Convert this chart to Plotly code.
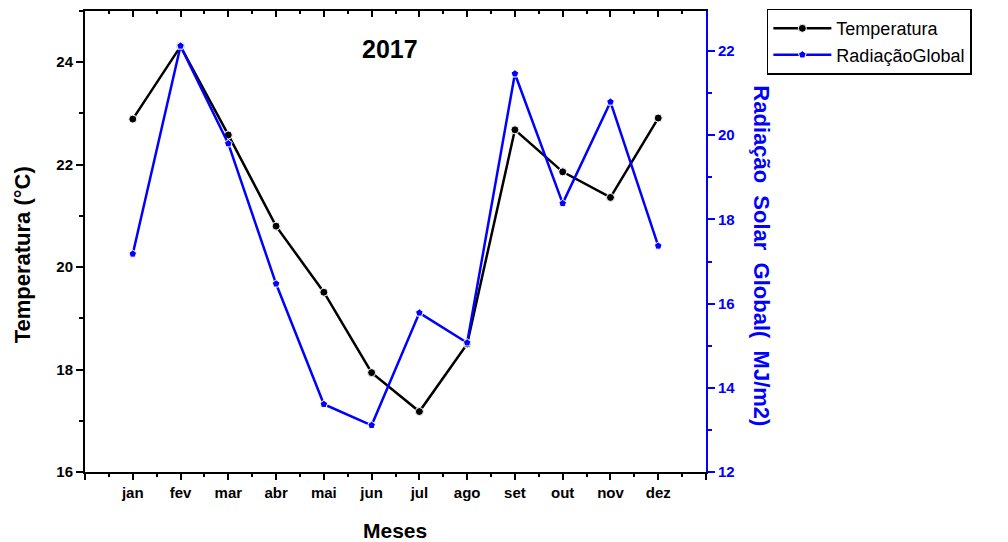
import plotly.graph_objects as go

meses = ["jan", "fev", "mar", "abr", "mai", "jun", "jul", "ago", "set", "out", "nov", "dez"]
temperatura = [22.89, 24.31, 22.58, 20.80, 19.51, 17.94, 17.18, 18.50, 22.68, 21.86, 21.36, 22.91]
radiacao = [17.18, 22.12, 19.80, 16.47, 13.61, 13.11, 15.78, 15.07, 21.46, 18.38, 20.79, 17.37]

pos = list(range(1, len(meses) + 1))
FONT = "Liberation Sans, Arial, sans-serif"
BLUE = "#0000ff"

fig = go.Figure()

fig.add_trace(go.Scatter(
    x=pos, y=temperatura, name="Temperatura", mode="lines+markers",
    line=dict(color="black", width=2.5),
    marker=dict(symbol="circle", size=8, color="black", line=dict(color="white", width=1)),
    xaxis="x", yaxis="y",
))
fig.add_trace(go.Scatter(
    x=pos, y=radiacao, name="RadiaçãoGlobal", mode="lines+markers",
    line=dict(color=BLUE, width=2.5),
    marker=dict(symbol="pentagon", size=8, color=BLUE, line=dict(color="white", width=1)),
    xaxis="x", yaxis="y2",
))
# empty trace that carries the top frame axis
fig.add_trace(go.Scatter(x=[None], y=[None], xaxis="x2", yaxis="y",
                         showlegend=False, hoverinfo="skip"))

tick_pos = [0] + pos + [13]
tick_txt = [""] + meses + [""]

fig.update_layout(
    width=1008, height=542,
    margin=dict(l=85, r=302, t=10, b=70),
    paper_bgcolor="white", plot_bgcolor="white",
    font=dict(family=FONT, color="black"),
    showlegend=True,
    legend=dict(
        x=1.098, y=1.003, xanchor="left", yanchor="top",
        bordercolor="black", borderwidth=1.5, bgcolor="white",
        font=dict(family=FONT, size=18, color="black"),
        itemwidth=58, tracegroupgap=2,
    ),
    xaxis=dict(
        range=[0, 13], tickmode="array", tickvals=tick_pos, ticktext=tick_txt,
        showgrid=False, zeroline=False, automargin=False,
        showline=True, linecolor="black", linewidth=2,
        ticks="outside", ticklen=6, tickwidth=1.5, tickcolor="black",
        tickfont=dict(family=FONT, size=15, color="black", weight="bold"),
        minor=dict(dtick=0.5, tick0=0, ticks="outside", ticklen=3, tickwidth=1.5, tickcolor="black"),
    ),
    xaxis2=dict(
        range=[0, 13], overlaying="x", side="top", anchor="y",
        tickmode="array", tickvals=tick_pos, showticklabels=False,
        showgrid=False, zeroline=False, automargin=False,
        showline=True, linecolor="black", linewidth=2,
        ticks="inside", ticklen=6, tickwidth=1.5, tickcolor="black",
        minor=dict(dtick=0.5, tick0=0, ticks="inside", ticklen=3, tickwidth=1.5, tickcolor="black"),
    ),
    yaxis=dict(
        range=[16, 25], tickmode="linear", tick0=16, dtick=2,
        showgrid=False, zeroline=False, automargin=False,
        showline=True, linecolor="black", linewidth=2,
        ticks="outside", ticklen=7, tickwidth=1.5, tickcolor="black",
        tickfont=dict(family=FONT, size=15, color="black", weight="bold"),
        minor=dict(dtick=1, tick0=16, ticks="outside", ticklen=4, tickwidth=1.5, tickcolor="black"),
    ),
    yaxis2=dict(
        range=[12, 22.95], overlaying="y", side="right", anchor="x",
        tickmode="linear", tick0=12, dtick=2,
        showgrid=False, zeroline=False, automargin=False,
        showline=True, linecolor=BLUE, linewidth=2,
        ticks="outside", ticklen=7, tickwidth=1.5, tickcolor=BLUE,
        tickfont=dict(family=FONT, size=15, color=BLUE, weight="bold"),
        minor=dict(dtick=1, tick0=12, ticks="outside", ticklen=4, tickwidth=1.5, tickcolor=BLUE),
    ),
    annotations=[
        dict(text="<b>2017</b>", x=6.38, y=24.25, xref="x", yref="y",
             showarrow=False, font=dict(family=FONT, size=25, color="black")),
        dict(text="<b>Meses</b>", x=0.5, xref="paper", xshift=-1,
             y=0, yref="paper", yshift=-58, yanchor="middle", showarrow=False,
             font=dict(family=FONT, size=21, color="black")),
        dict(text="<b>Temperatura (°C)</b>", textangle=-90,
             x=0, xref="paper", xshift=-63, xanchor="center",
             y=0.47, yref="paper", yanchor="middle", showarrow=False,
             font=dict(family=FONT, size=22, color="black")),
        dict(text="<b>Radiação  Solar  Global(  MJ/m2)</b>", textangle=90,
             x=1.0, xref="paper", xshift=56, xanchor="center",
             y=0.47, yref="paper", yanchor="middle", showarrow=False,
             font=dict(family=FONT, size=22, color=BLUE)),
    ],
)

fig.write_html("out.html")
